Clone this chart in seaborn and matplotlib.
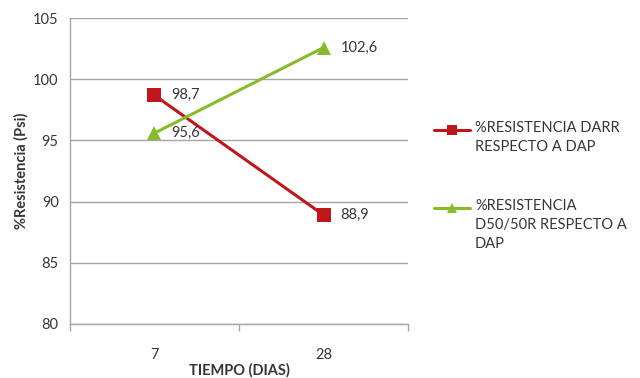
import numpy as np
import pandas as pd
import matplotlib
matplotlib.use("Agg")
import matplotlib.pyplot as plt
from matplotlib.lines import Line2D
import seaborn as sns

# Values
dias = ["7", "28"]
darr = [98.7, 88.9]
d5050 = [95.6, 102.6]
series_names = ["%RESISTENCIA DARR\nRESPECTO A DAP",
                "%RESISTENCIA\nD50/50R RESPECTO A\nDAP"]
y_ticks = [80, 85, 90, 95, 100, 105]

sns.set_theme(style="white")
plt.rcParams["font.family"] = ["Lato", "DejaVu Sans"]

text_color = "#363636"
grid_color = "#a6a6a6"
red = "#c0171c"
green = "#86bc2a"
colors = [red, green]
markers = ["s", "^"]

pos = np.arange(len(dias))
df = pd.DataFrame({
    "pos": np.concatenate([pos, pos]),
    "valor": darr + d5050,
    "serie": [series_names[0]] * len(dias) + [series_names[1]] * len(dias),
})

fig = plt.figure(figsize=(6.4, 3.78), dpi=100)
ax = fig.add_axes([0.109, 0.143, 0.529, 0.809])

sns.lineplot(data=df, x="pos", y="valor", hue="serie", style="serie",
             palette=colors, markers=markers, dashes=False,
             markersize=10, markeredgewidth=0, linewidth=2.2,
             ax=ax, legend=False, zorder=3)

# Value labels
for vals in (darr, d5050):
    for x, v in zip(pos, vals):
        ax.annotate(f"{v:.1f}".replace(".", ","), (x, v), xytext=(12, 0),
                    textcoords="offset points", va="center", ha="left",
                    fontsize=10.5, color=text_color)

ax.set_ylim(80, 105)
ax.set_yticks(y_ticks)
ax.set_xlim(-0.5, len(dias) - 0.5)
ax.set_xticks(pos)
ax.set_xticklabels(dias)
ax.set_xticks(np.arange(-0.5, len(dias)), minor=True)
ax.tick_params(axis="x", which="major", length=0, pad=17,
               labelsize=10.5, labelcolor=text_color)
ax.tick_params(axis="x", which="minor", length=5, width=1,
               color=grid_color, direction="out", bottom=True)
ax.tick_params(axis="y", length=5, width=1, color=grid_color,
               direction="out", labelsize=10.5, labelcolor=text_color, pad=3)

ax.yaxis.grid(True, color=grid_color, linewidth=1)
ax.set_axisbelow(True)
for side in ("top", "right"):
    ax.spines[side].set_visible(False)
for side in ("left", "bottom"):
    ax.spines[side].set_color(grid_color)
    ax.spines[side].set_linewidth(1)

ax.set_xlabel("TIEMPO (DIAS)", fontsize=10.5, fontweight="bold",
              color=text_color, labelpad=1)
ax.set_ylabel("%Resistencia (Psi)", fontsize=10.5, fontweight="bold",
              color=text_color, labelpad=3)

# Legend on the right: handle level with the first line of each label
W, H = 640.0, 378.0
legend_rows = [130, 208]  # centre of first text line, px from top
for name, col, mk, yr in zip(series_names, colors, markers, legend_rows):
    yc = 1 - yr / H
    fig.add_artist(Line2D([434 / W, 470 / W], [yc, yc], color=col, lw=2.2,
                          transform=fig.transFigure))
    fig.add_artist(Line2D([452 / W], [yc], color=col, marker=mk,
                          markersize=7.5, markeredgewidth=0, lw=0,
                          transform=fig.transFigure))
    fig.text(475 / W, 1 - (yr - 9) / H, name, va="top", ha="left",
             fontsize=10.5, color=text_color, linespacing=1.45)

fig.savefig("out.png", dpi=100)
